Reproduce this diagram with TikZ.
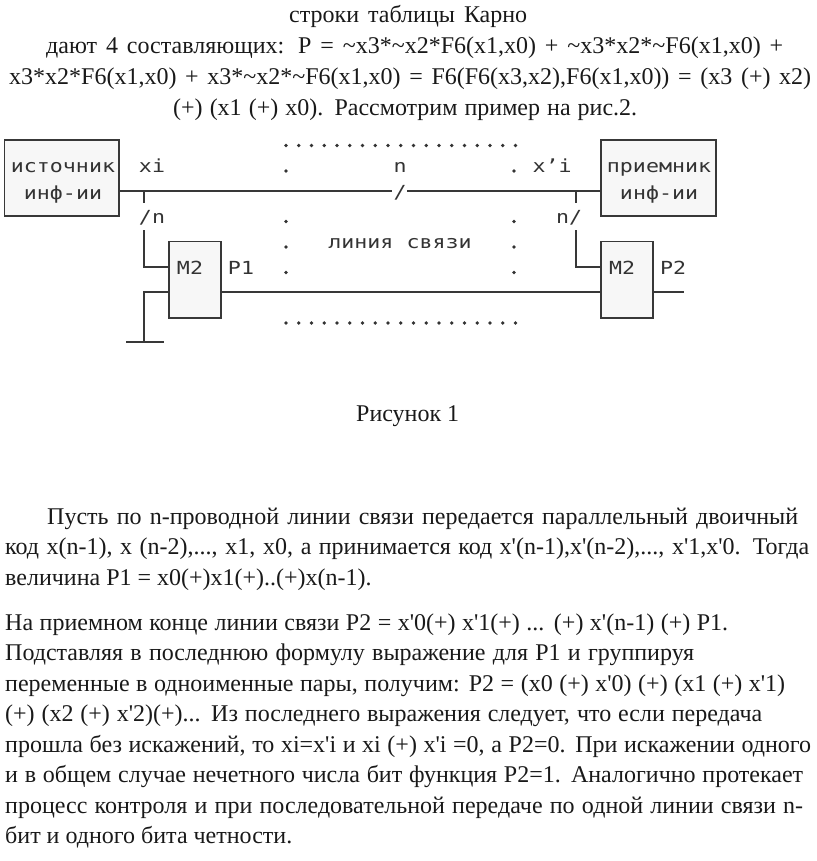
\documentclass[tikz,border=0pt]{standalone}
\usepackage{fontspec}
\setmainfont[Ligatures=TeXOff]{Liberation Serif}
\newfontfamily\dgfont[FakeStretch=1.2]{DejaVu Sans Mono}
\tikzset{
 wire/.style={draw=black!78,line width=1.7pt},
 blockbox/.style={draw=black!78,line width=1.7pt,fill=black!3,inner sep=0pt},
 dglabel/.style={font=\dgfont\fontsize{18}{20}\selectfont,text=black!80,inner sep=0pt,anchor=base},
 bodyline/.style={font=\fontsize{24}{28}\selectfont,text=black!90,inner sep=0pt,anchor=base west},
 dotmark/.style={circle,fill=black!80,inner sep=0pt,minimum size=3.8pt},
}
\newcommand{\bl}[4]{\node[bodyline] (#1) at (#2,#3) {#4};}
\newcommand{\jl}[5]{\node[bodyline] (#1) at (#2,#3) {\makebox[#4pt][s]{#5}};}
\begin{document}
\begin{tikzpicture}[x=1pt,y=-1pt]
\useasboundingbox (0,0) rectangle (816,861);
% text
\jl{t1}{289}{23}{238}{строки таблицы Карно}
\jl{t2}{46}{54}{737}{дают 4 составляющих: P = \char`\~x3*\char`\~x2*F6(x1,x0) + \char`\~x3*x2*\char`\~F6(x1,x0) +}
\jl{t3}{9}{85}{802}{x3*x2*F6(x1,x0) + x3*\char`\~x2*\char`\~F6(x1,x0) = F6(F6(x3,x2),F6(x1,x0)) = (x3 (+) x2)}
\jl{t4}{173}{116}{464}{(+) (x1 (+) x0). Рассмотрим пример на рис.2.}
\bl{t5}{356}{421}{Рисунок 1}
\jl{p1}{47}{524}{751}{Пусть по n-проводной линии связи передается параллельный двоичный}
\jl{p2}{5}{554}{804}{код x(n-1), x (n-2),..., x1, x0, а принимается код x'(n-1),x'(n-2),..., x'1,x'0. Тогда}
\bl{p3}{5}{585}{величина P1 = x0(+)x1(+)..(+)x(n-1).}
\jl{q1}{5}{630}{723}{На приемном конце линии связи P2 = x'0(+) x'1(+) ... (+) x'(n-1) (+) P1.}
\jl{q2}{5}{660}{689}{Подставляя в последнюю формулу выражение для P1 и группируя}
\jl{q3}{5}{691}{780}{переменные в одноименные пары, получим: P2 = (x0 (+) x'0) (+) (x1 (+) x'1)}
\jl{q4}{5}{721}{757}{(+) (x2 (+) x'2)(+)... Из последнего выражения следует, что если передача}
\jl{q5}{5}{752}{806}{прошла без искажений, то xi=x'i и xi (+) x'i =0, а P2=0. При искажении одного}
\jl{q6}{5}{782}{798}{и в общем случае нечетного числа бит функция P2=1. Аналогично протекает}
\jl{q7}{5}{813}{798}{процесс контроля и при последовательной передаче по одной линии связи n-}
\bl{q8}{5}{843}{бит и одного бита четности.}
% boxes
\node[blockbox,minimum width=114.5pt,minimum height=76pt] (src) at (61.7,178) {};
\node[blockbox,minimum width=114.5pt,minimum height=76pt] (dst) at (658.5,178) {};
\node[blockbox,minimum width=51.5pt,minimum height=76.5pt] (m1) at (195,279.7) {};
\node[blockbox,minimum width=51.5pt,minimum height=76.5pt] (m2) at (627,279.7) {};
\node[dglabel] (srcA) at (63,173) {источник};
\node[dglabel] (srcB) at (63,199) {инф-ии};
\node[dglabel] (dstA) at (659,173) {приемник};
\node[dglabel] (dstB) at (659,199) {инф-ии};
\node[dglabel] (m1l) at (190,274) {M2};
\node[dglabel] (m2l) at (622,274) {M2};
\node[dglabel] (p1l) at (241,274) {P1};
\node[dglabel] (p2l) at (673,274) {P2};
\node[dglabel] (xi) at (152,173) {xi};
\node[dglabel] (xpi) at (552,173) {x’i};
\node[dglabel] (nl) at (400,173) {n};
\node[dglabel] (nsl) at (400,198) {/};
\node[dglabel] (ln) at (152,223) {/n};
\node[dglabel] (rn) at (569,223) {n/};
\node[dglabel] (lin) at (400,248) {линия связи};
% junctions
\coordinate (jl) at (144,191);
\coordinate (jr) at (576,191);
\coordinate (gnd) at (144,342);
\coordinate (pend) at (684,292);
% wires
\draw[wire] (src.east |- jl) -- (392,191);
\draw[wire] (407,191) -- (dst.west |- jr);
\draw[wire] (jl) -- (144,203);
\draw[wire] (144,230) |- (m1.west |- 0,267);
\draw[wire] (jr) -- (576,203);
\draw[wire] (576,230) |- (m2.west |- 0,267);
\draw[wire] (m1.west |- 0,292) -| (gnd);
\draw[wire] (126,342) -- (164,342);
\draw[wire] (m1.east |- 0,292) -- (m2.west |- 0,292);
\draw[wire] (m2.east |- 0,292) -- (pend);
% dotted frame
\foreach \i in {0,...,18} {
 \node[dotmark] at (286+\i*12.75,145.5) {};
 \node[dotmark] at (286+\i*12.75,323) {};
}
\foreach \y in {171,221.5,247,272.5} {
 \node[dotmark] at (286,\y) {};
 \node[dotmark] at (514,\y) {};
}
\end{tikzpicture}
\end{document}
